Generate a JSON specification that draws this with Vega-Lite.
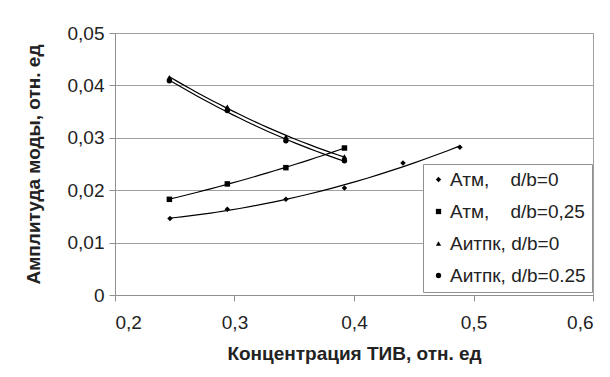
{
  "$schema": "https://vega.github.io/schema/vega-lite/v6.json",
  "width": 478,
  "height": 262,
  "autosize": {"type": "none"},
  "padding": {"left": 115, "top": 33, "right": 17, "bottom": 82},
  "background": "white",
  "config": {
    "font": "Liberation Sans",
    "view": {"stroke": "#a0a0a0", "strokeWidth": 1}
  },
  "data": {
    "values": [
      {"x": 0.246, "y": 0.0146, "s": "Атм,\u00a0\u00a0\u00a0\u00a0d/b=0"},
      {"x": 0.294, "y": 0.01635, "s": "Атм,\u00a0\u00a0\u00a0\u00a0d/b=0"},
      {"x": 0.343, "y": 0.01826, "s": "Атм,\u00a0\u00a0\u00a0\u00a0d/b=0"},
      {"x": 0.392, "y": 0.0204, "s": "Атм,\u00a0\u00a0\u00a0\u00a0d/b=0"},
      {"x": 0.441, "y": 0.0252, "s": "Атм,\u00a0\u00a0\u00a0\u00a0d/b=0"},
      {"x": 0.4886, "y": 0.0282, "s": "Атм,\u00a0\u00a0\u00a0\u00a0d/b=0"},
      {"x": 0.2455, "y": 0.01826, "s": "Атм,\u00a0\u00a0\u00a0\u00a0d/b=0,25"},
      {"x": 0.294, "y": 0.0212, "s": "Атм,\u00a0\u00a0\u00a0\u00a0d/b=0,25"},
      {"x": 0.343, "y": 0.0243, "s": "Атм,\u00a0\u00a0\u00a0\u00a0d/b=0,25"},
      {"x": 0.392, "y": 0.02805, "s": "Атм,\u00a0\u00a0\u00a0\u00a0d/b=0,25"},
      {"x": 0.2455, "y": 0.04155, "s": "Аитпк, d/b=0"},
      {"x": 0.294, "y": 0.0359, "s": "Аитпк, d/b=0"},
      {"x": 0.343, "y": 0.0302, "s": "Аитпк, d/b=0"},
      {"x": 0.392, "y": 0.0264, "s": "Аитпк, d/b=0"},
      {"x": 0.2455, "y": 0.0409, "s": "Аитпк, d/b=0.25"},
      {"x": 0.294, "y": 0.0352, "s": "Аитпк, d/b=0.25"},
      {"x": 0.343, "y": 0.02945, "s": "Аитпк, d/b=0.25"},
      {"x": 0.392, "y": 0.02563, "s": "Аитпк, d/b=0.25"}
    ]
  },
  "layer": [
    {
      "transform": [
        {"regression": "y", "on": "x", "groupby": ["s"], "method": "poly", "order": 2}
      ],
      "mark": {"type": "line", "color": "black", "strokeWidth": 1.2},
      "encoding": {
        "x": {"field": "x", "type": "quantitative"},
        "y": {"field": "y", "type": "quantitative"},
        "detail": {"field": "s"}
      }
    },
    {
      "mark": {"type": "point", "filled": true, "color": "black", "opacity": 1, "size": 30},
      "encoding": {
        "x": {
          "field": "x",
          "type": "quantitative",
          "scale": {"domain": [0.2, 0.6], "nice": false, "zero": false},
          "axis": {
            "values": [0.2, 0.3, 0.4, 0.5, 0.6],
            "grid": false,
            "labelExpr": "replace(format(datum.value, '.1f'), '.', ',')",
            "labelFontSize": 19,
            "labelColor": "#222",
            "labelPadding": 12,
            "domainColor": "#909090",
            "tickColor": "#909090",
            "tickSize": 6,
            "title": "Концентрация ТИВ, отн. ед",
            "titleFontSize": 19,
            "titleFontWeight": "bold",
            "titleColor": "#222",
            "titlePadding": 12
          }
        },
        "y": {
          "field": "y",
          "type": "quantitative",
          "scale": {"domain": [0, 0.05], "nice": false},
          "axis": {
            "values": [0, 0.01, 0.02, 0.03, 0.04, 0.05],
            "grid": true,
            "gridColor": "#a0a0a0",
            "labelExpr": "datum.value == 0 ? '0' : replace(format(datum.value, '.2f'), '.', ',')",
            "labelFontSize": 19,
            "labelColor": "#222",
            "labelPadding": 5,
            "domainColor": "#909090",
            "tickColor": "#909090",
            "tickSize": 6,
            "title": "Амплитуда моды, отн. ед",
            "titleFontSize": 19,
            "titleFontWeight": "bold",
            "titleColor": "#222",
            "titlePadding": 24
          }
        },
        "shape": {
          "field": "s",
          "type": "nominal",
          "scale": {
            "domain": ["Атм,\u00a0\u00a0\u00a0\u00a0d/b=0", "Атм,\u00a0\u00a0\u00a0\u00a0d/b=0,25", "Аитпк, d/b=0", "Аитпк, d/b=0.25"],
            "range": ["diamond", "square", "triangle-up", "circle"]
          },
          "legend": {
            "title": null,
            "orient": "none",
            "legendX": 308,
            "legendY": 131,
            "fillColor": "white",
            "strokeColor": "#909090",
            "padding": 6,
            "labelFontSize": 19,
            "labelColor": "#222",
            "labelLimit": 300,
            "labelOffset": 2,
            "rowPadding": 12,
            "symbolSize": 28,
            "symbolFillColor": "black",
            "symbolStrokeColor": "black",
            "symbolOffset": 0
          }
        }
      }
    }
  ]
}
